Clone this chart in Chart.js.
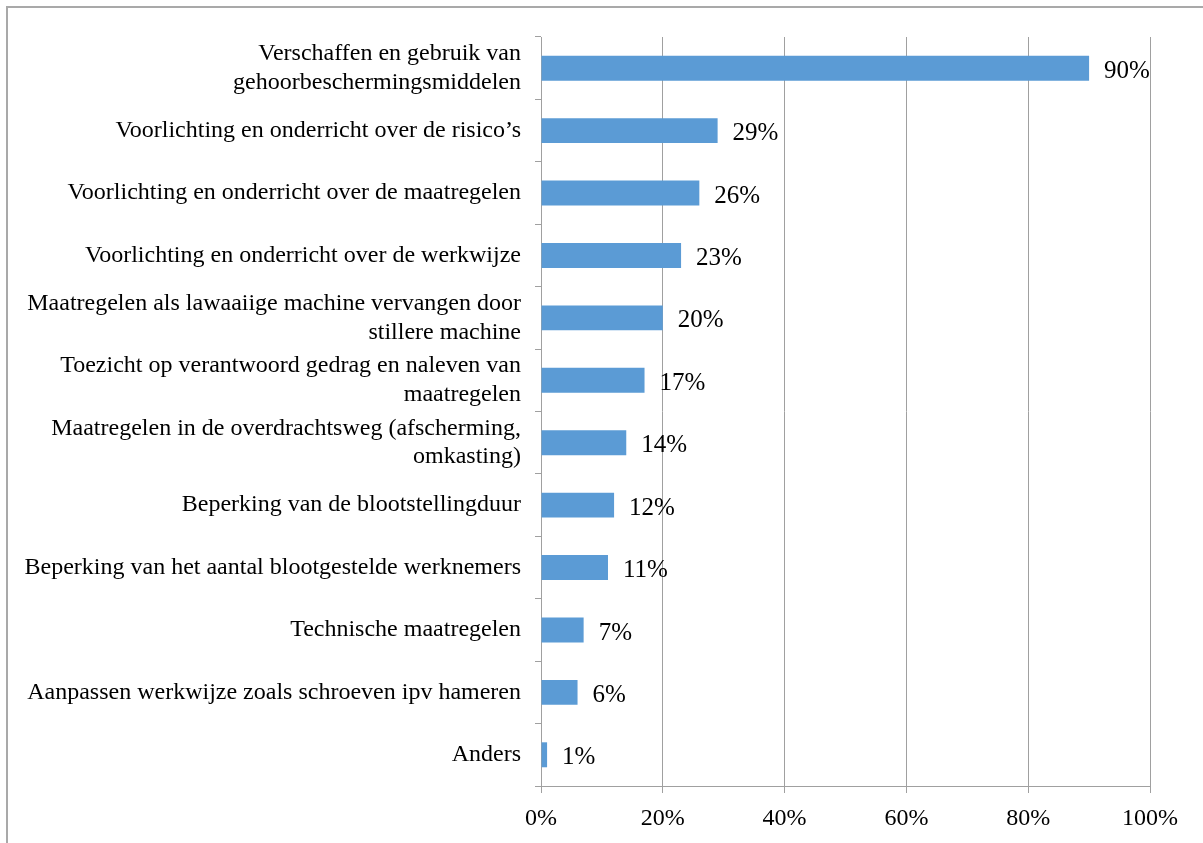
<!DOCTYPE html>
<html>
<head>
<meta charset="utf-8">
<script src="https://cdn.jsdelivr.net/npm/chart.js@4"></script>
<style>
  html, body { margin: 0; padding: 0; background: #ffffff; }
  body { width: 1203px; height: 843px; position: relative; overflow: hidden; }
  /* light frame around the chart */
  .frame {
    position: absolute; left: 6px; top: 6px; width: 1300px; height: 900px;
    border-left: 2px solid #a9a9a9; border-top: 2px solid #a9a9a9;
  }
  .chart-wrap { position: absolute; left: 0; top: 0; width: 1203px; height: 843px; }
</style>
</head>
<body>
<div class="frame"></div>
<div class="chart-wrap"><canvas id="chart"></canvas></div>
<script>
// categories, top to bottom
const measures = [
  ["Verschaffen en gebruik van", "gehoorbeschermingsmiddelen"],
  "Voorlichting en onderricht over de risico\u2019s",
  "Voorlichting en onderricht over de maatregelen",
  "Voorlichting en onderricht over de werkwijze",
  ["Maatregelen als lawaaiige machine vervangen door", "stillere machine"],
  ["Toezicht op verantwoord gedrag en naleven van", "maatregelen"],
  ["Maatregelen in de overdrachtsweg (afscherming,", "omkasting)"],
  "Beperking van de blootstellingduur",
  "Beperking van het aantal blootgestelde werknemers",
  "Technische maatregelen",
  "Aanpassen werkwijze zoals schroeven ipv hameren",
  "Anders"
];

// share of respondents, in percent
const shares = [90, 29, 26, 23, 20, 17, 14, 12, 11, 7, 6, 1];

// x axis ticks
const tickSteps = [0, 20, 40, 60, 80, 100];

const serif = "'Liberation Serif', 'Times New Roman', serif";
const gridGray = "#a0a0a0";

// writes the percentage just after the end of each bar
const valueLabels = {
  id: "valueLabels",
  afterDatasetsDraw(chart) {
    const ctx = chart.ctx;
    const meta = chart.getDatasetMeta(0);
    ctx.save();
    ctx.font = "25px " + serif;
    ctx.fillStyle = "#000000";
    ctx.textAlign = "left";
    ctx.textBaseline = "middle";
    meta.data.forEach((bar, i) => {
      ctx.fillText(shares[i] + "%", bar.x + 15, bar.y + 3);
    });
    ctx.restore();
  }
};

new Chart(document.getElementById("chart"), {
  type: "bar",
  data: {
    labels: measures,
    datasets: [{
      data: shares,
      backgroundColor: "#5b9bd5",
      borderWidth: 0,
      barPercentage: 0.4,
      categoryPercentage: 1
    }]
  },
  options: {
    indexAxis: "y",
    responsive: true,
    maintainAspectRatio: false,
    animation: false,
    layout: { padding: { left: 0, right: 53, top: 37, bottom: 0 } },
    plugins: {
      legend: { display: false },
      tooltip: { enabled: false }
    },
    scales: {
      x: {
        min: 0,
        max: 100,
        afterBuildTicks(scale) {
          scale.ticks = tickSteps.map(v => ({ value: v }));
        },
        afterFit(scale) { scale.height = 57; },
        ticks: {
          color: "#000000",
          font: { family: serif, size: 24 },
          padding: 11,
          maxRotation: 0,
          callback: v => v + "%"
        },
        grid: { color: gridGray, lineWidth: 1, tickLength: 7 },
        border: { color: gridGray, width: 1 }
      },
      y: {
        afterFit(scale) { scale.width = 541; },
        ticks: {
          color: "#000000",
          font: { family: serif, size: 24, lineHeight: 1.2 },
          padding: 14,
          autoSkip: false
        },
        grid: {
          offset: true,
          drawOnChartArea: false,
          color: gridGray,
          tickLength: 6
        },
        border: { color: gridGray, width: 1 }
      }
    }
  },
  plugins: [valueLabels]
});
</script>
</body>
</html>
